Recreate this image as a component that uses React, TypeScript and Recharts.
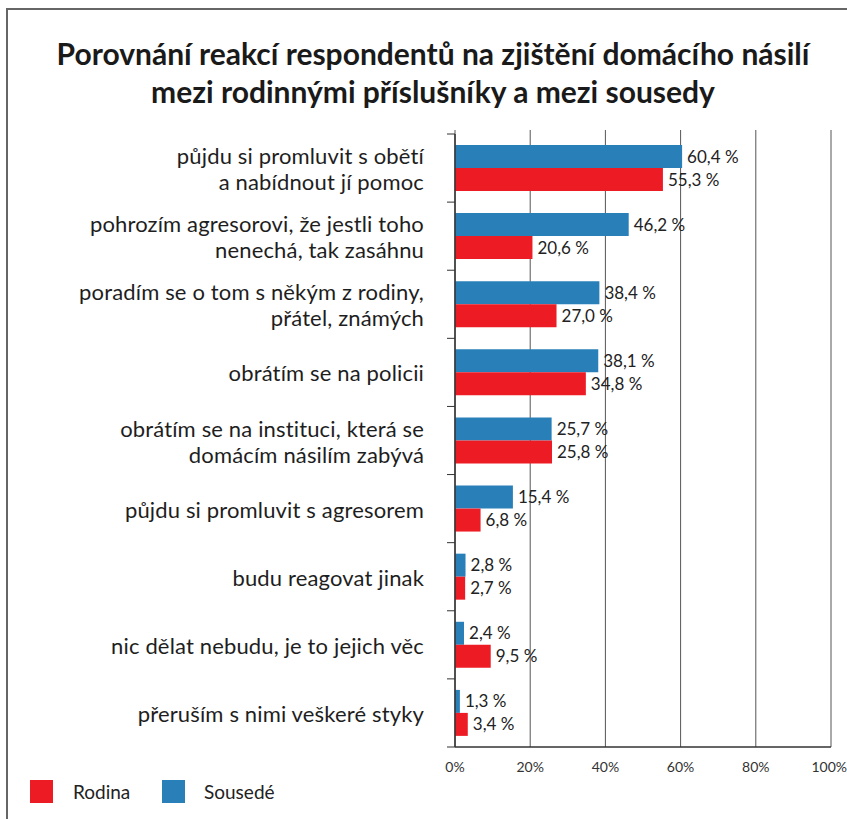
import React from "react";
import { BarChart, Bar, XAxis, YAxis, CartesianGrid, LabelList } from "recharts";

const categories = [
  "půjdu si promluvit s obětí\na nabídnout jí pomoc",
  "pohrozím agresorovi, že jestli toho\nnenechá, tak zasáhnu",
  "poradím se o tom s někým z rodiny,\npřátel, známých",
  "obrátím se na policii",
  "obrátím se na instituci, která se\ndomácím násilím zabývá",
  "půjdu si promluvit s agresorem",
  "budu reagovat jinak",
  "nic dělat nebudu, je to jejich věc",
  "přeruším s nimi veškeré styky",
];
const sousede = [60.4, 46.2, 38.4, 38.1, 25.7, 15.4, 2.8, 2.4, 1.3];
const rodina = [55.3, 20.6, 27.0, 34.8, 25.8, 6.8, 2.7, 9.5, 3.4];
const xTicks = [0, 20, 40, 60, 80, 100];

const data = categories.map((name, i) => ({
  name,
  sousede: sousede[i],
  rodina: rodina[i],
}));

const FONT = "Lato, 'Open Sans', sans-serif";
const W = 847;
const H = 819;
const PLOT_TOP = 134;
const PLOT_BOTTOM = 747;
const PLOT_LEFT = 455;
const PLOT_RIGHT = 831;
const GRID_TOP = 130;
const Y_AXIS_W = 440;
const X_AXIS_H = 30;
const BAND = (PLOT_BOTTOM - PLOT_TOP) / categories.length;

const RED = "#ed1c24";
const BLUE = "#2980b9";

const fmt = (v: any) => `${Number(v).toFixed(1).replace(".", ",")} %`;

const CategoryTick = (props: any) => {
  const { x, y, payload, index } = props;
  const lines = String(payload.value).split("\n");
  const lh = 26;
  const y0 = y - ((lines.length - 1) * lh) / 2;
  return (
    <g>
      <line x1={x - 8} x2={x} y1={y - BAND / 2} y2={y - BAND / 2} stroke="#333" />
      {index === categories.length - 1 && (
        <line x1={x - 8} x2={x} y1={y + BAND / 2} y2={y + BAND / 2} stroke="#333" />
      )}
      <text x={x - 31} y={y0} textAnchor="end" fontSize={22} letterSpacing={0.15} fill="#1e1e1e" fontFamily={FONT} dominantBaseline="central">
        {lines.map((l, i) => (
          <tspan key={i} x={x - 31} y={y0 + i * lh}>
            {l}
          </tspan>
        ))}
      </text>
    </g>
  );
};

export default function App() {
  return (
    <div style={{ position: "absolute", left: 0, top: 0, width: W, height: H, background: "#fff", overflow: "hidden", fontFamily: FONT }}>
      <div style={{ position: "absolute", left: 6, top: 8, width: W + 20, height: H + 20, borderLeft: "2px solid #666", borderTop: "2px solid #666" }} />
      <div style={{ position: "absolute", left: 0, top: 34, width: 866, textAlign: "center", fontWeight: 700, fontSize: 30, lineHeight: "38px", color: "#1a1a1a" }}>
        Porovnání reakcí respondentů na zjištění domácího násilí
        <br />
        mezi rodinnými příslušníky a mezi sousedy
      </div>
      <div style={{ position: "absolute", left: 0, top: 0 }}>
        <BarChart
          width={W}
          height={H}
          data={data}
          layout="vertical"
          barSize={23}
          barGap={0}
          margin={{ top: PLOT_TOP, bottom: H - PLOT_BOTTOM - X_AXIS_H, left: PLOT_LEFT - Y_AXIS_W, right: W - PLOT_RIGHT }}
        >
          <CartesianGrid
            horizontal={false}
            vertical={true}
            stroke="#555"
            strokeWidth={1}
            y={GRID_TOP}
            height={PLOT_BOTTOM - GRID_TOP}
          />
          <XAxis
            type="number"
            domain={[0, 100]}
            ticks={xTicks}
            tickFormatter={(v) => `${v}%`}
            height={X_AXIS_H}
            tickLine={false}
            axisLine={{ stroke: "#333", strokeWidth: 1.5 }}
            tick={{ fontSize: 14, fill: "#333", fontFamily: FONT }}
            tickMargin={9}
          />
          <YAxis
            type="category"
            dataKey="name"
            width={Y_AXIS_W}
            tickLine={false}
            tickSize={0}
            tickMargin={0}
            axisLine={{ stroke: "#333", strokeWidth: 1.5 }}
            tick={<CategoryTick />}
            interval={0}
          />
          <Bar dataKey="sousede" fill={BLUE} isAnimationActive={false}>
            <LabelList dataKey="sousede" position="right" offset={5} formatter={fmt} style={{ fontSize: 17, fill: "#222", fontFamily: FONT }} />
          </Bar>
          <Bar dataKey="rodina" fill={RED} isAnimationActive={false}>
            <LabelList dataKey="rodina" position="right" offset={5} formatter={fmt} style={{ fontSize: 17, fill: "#222", fontFamily: FONT }} />
          </Bar>
        </BarChart>
      </div>
      <div style={{ position: "absolute", left: 30, top: 780, display: "flex", alignItems: "center", fontSize: 19, color: "#222" }}>
        <span style={{ width: 23, height: 23, background: RED, display: "inline-block" }} />
        <span style={{ marginLeft: 20, width: 89 }}>Rodina</span>
        <span style={{ width: 23, height: 23, background: BLUE, display: "inline-block" }} />
        <span style={{ marginLeft: 19 }}>Sousedé</span>
      </div>
    </div>
  );
}
